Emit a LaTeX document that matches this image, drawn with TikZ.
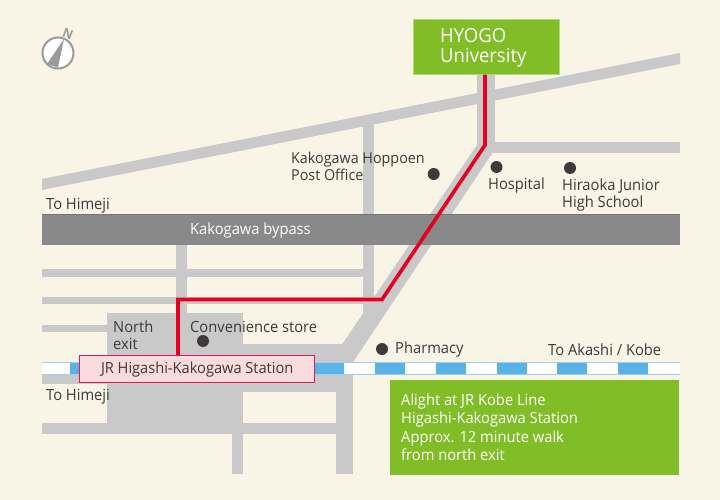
\documentclass[tikz,border=0pt]{standalone}
\usepackage{fontspec}
\setmainfont{Open Sans}[FakeStretch=0.955]
\definecolor{paper}{HTML}{F8F4E6}
\definecolor{road}{HTML}{C9C9C9}
\definecolor{bypass}{HTML}{898989}
\definecolor{railblue}{HTML}{5BB2E6}
\definecolor{railedge}{HTML}{9CCFEE}
\definecolor{leaf}{HTML}{80BD27}
\definecolor{ink}{HTML}{3E3A39}
\definecolor{routered}{HTML}{E60020}
\definecolor{stationfill}{HTML}{F9DADD}
\definecolor{stationedge}{HTML}{DC1A5F}
\definecolor{compassgrey}{HTML}{9A9A9A}
\tikzset{
  roadfill/.style={fill=road,draw=none},
  label text/.style={text=ink,font=\fontsize{15.4}{17}\selectfont,inner sep=0pt,anchor=base west,align=left},
  poi/.style={circle,fill=ink,draw=none,minimum size=12pt,inner sep=0pt},
  route/.style={draw=routered,line width=3.6pt,line join=miter},
  rail dash/.style={fill=railblue,draw=none},
}
\begin{document}
\begin{tikzpicture}[x=1pt,y=-1pt]
\useasboundingbox (0,0) rectangle (720,500);
\fill[paper] (0,0) rectangle (720,500);
% roads
\fill[roadfill] (42,179) -- (680,53) -- (680,64) -- (42,190) -- cycle;
\fill[roadfill] (477,70) rectangle (495,146);
\fill[roadfill] (490,142) rectangle (680,153);
\fill[roadfill] (477,145) -- (495,143) -- (495,152) -- (493,152) -- (353,362) -- (336,362) -- (336,352) -- (343,343) -- cycle;
\fill[roadfill] (363,125) rectangle (374,314);
\fill[roadfill] (176,245) rectangle (187,315);
\fill[roadfill] (42,269) rectangle (365,277);
\fill[roadfill] (42,297) rectangle (385,304);
\fill[roadfill] (42,325) rectangle (110,332);
\fill[roadfill] (107,313) rectangle (243,433);
\fill[roadfill] (243,344) rectangle (345,362);
\fill[roadfill] (42,362) rectangle (353,384);
\fill[roadfill] (243,362) rectangle (353,392);
\fill[roadfill] (42,423) rectangle (353,434);
\fill[roadfill] (232,433) rectangle (243,474);
\fill[roadfill] (336,384) rectangle (353,474);
% bypass
\fill[bypass] (42,214) rectangle (680,245);
\draw[draw=black!55,line width=.6pt] (42,214.3) -- (680,214.3);
% rail
\fill[white] (42,362) rectangle (680,375);
\foreach \xa in {70,131,192,253,314,375,436,497,557,618} {
  \fill[rail dash] (\xa,363) rectangle +(30,11);
}
\draw[railedge,line width=1pt] (42,362.5) -- (680,362.5);
\draw[railedge,line width=1pt] (42,374.5) -- (680,374.5);
% compass
\node[circle,draw=compassgrey,fill=white,line width=2pt,minimum size=31pt,inner sep=0pt] (compass) at (58,53) {};
\fill[compassgrey] (64,39) -- (47,64) -- (58,67.5) -- cycle;
\node[text=compassgrey,font=\bfseries\fontsize{13}{13}\selectfont,rotate=-20,inner sep=0pt] (north) at (68,34) {N};
% boxes
\node[fill=leaf,draw=leaf!60!white,line width=.6pt,minimum width=146pt,minimum height=55pt,inner sep=0pt,anchor=north west] (univ) at (413,19) {};
\node[text=white,font=\fontsize{19.4}{20}\selectfont,inner sep=0pt,anchor=base west,align=left] (univname) at (440,63) {HYOGO\\University};
\node[fill=stationfill,draw=stationedge,line width=1.4pt,minimum width=235pt,minimum height=27pt,inner sep=0pt,anchor=north west,text=ink,font=\fontsize{15.3}{17}\selectfont] (station) at (79,355) {JR Higashi-Kakogawa Station};
\node[fill=leaf,minimum width=289pt,minimum height=95pt,inner sep=0pt,anchor=north west] (info) at (390,380) {};
\node[text=white,font=\fontsize{15.4}{18.4}\selectfont,inner sep=0pt,anchor=base west,align=left] (infotext) at (401,460.5) {Alight at JR Kobe Line\\Higashi-Kakogawa Station\\Approx. 12 minute walk\\from north exit};
% route
\coordinate (bend1) at (485,145);
\coordinate (bend2) at (382,299.5);
\coordinate (bend3) at (178,299.5);
\draw[route] (univ.south -| bend1) -- (bend1) -- (bend2) -- (bend3) -- (bend3 |- station.north);
% labels
\node[text=white,font=\fontsize{15.4}{17}\selectfont,inner sep=0pt,anchor=base west] (bypasslabel) at (190,234) {Kakogawa bypass};
\node[label text] (himeji1) at (46,209) {To Himeji};
\node[label text] (himeji2) at (46,400) {To Himeji};
\node[label text,font=\fontsize{15}{17}\selectfont] (postoffice) at (291,180) {Kakogawa Hoppoen\\Post Office};
\node[label text] (hospital) at (488,189) {Hospital};
\node[label text] (school) at (562,207) {Hiraoka Junior\\High School};
\node[label text] (northexit) at (113,349) {North\\exit};
\node[label text] (conv) at (190,332) {Convenience store};
\node[label text] (pharmacy) at (395,353) {Pharmacy};
\node[label text] (akashi) at (548,355) {To Akashi / Kobe};
% points
\node[poi] (p1) at (433.7,174) {};
\node[poi] (p2) at (496.5,167) {};
\node[poi] (p3) at (570,168) {};
\node[poi] (p4) at (203,341) {};
\node[poi] (p5) at (382,349) {};
\end{tikzpicture}
\end{document}
